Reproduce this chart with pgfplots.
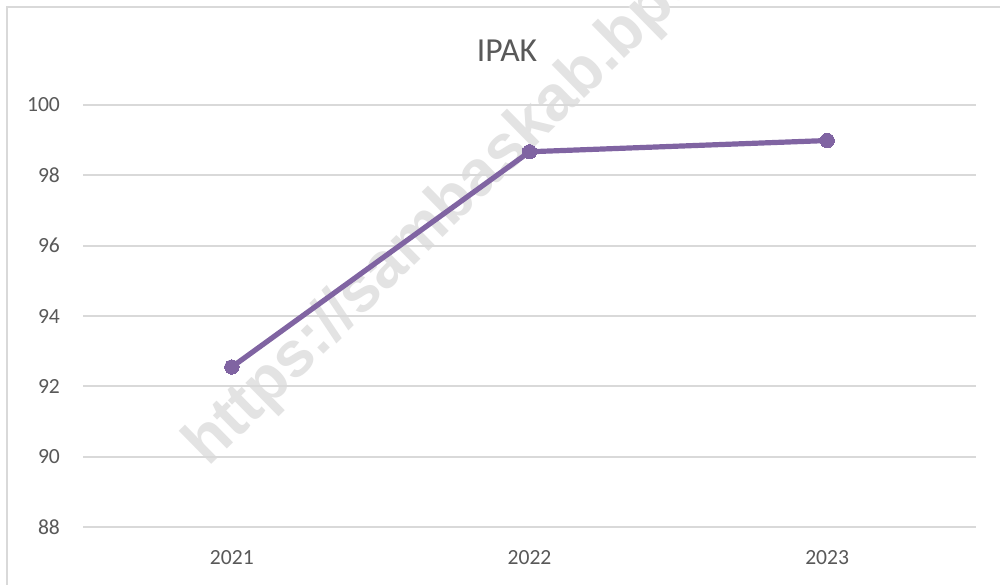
\documentclass[border=0pt]{standalone}
\usepackage{pgfplots}
\pgfplotsset{compat=1.18}
\usepackage{fontspec}
\setmainfont{Carlito}
\newfontfamily\wmfont{Liberation Sans}
\definecolor{linecol}{HTML}{8064A2}
\definecolor{gridcol}{HTML}{D9D9D9}
\definecolor{textcol}{HTML}{595959}
\definecolor{wmcol}{HTML}{E3E3E3}
\begin{document}
\begin{tikzpicture}
\useasboundingbox (0pt,0pt) rectangle (500pt,292pt);
\fill[white] (0pt,0pt) rectangle (500pt,292pt);
\draw[gridcol,line width=1pt] (3.5pt,-5pt) -- (3.5pt,288.5pt) -- (505pt,288.5pt);
\node[wmcol,font=\wmfont\bfseries\fontsize{32}{38}\selectfont,anchor=base west,rotate=44.5,inner sep=0pt] at (104pt,58pt) {https://sambaskab.bps.go.id};
\begin{axis}[
  at={(41.5pt,28.5pt)}, anchor=south west,
  scale only axis, width=446.5pt, height=211pt,
  xmin=0.5, xmax=3.5, ymin=88, ymax=100,
  xtick={1,2,3}, xticklabels={2021,2022,2023},
  ytick={88,90,...,100},
  ymajorgrids, major grid style={gridcol,line width=1pt},
  axis line style={draw=none},
  major tick length=0pt,
  tick label style={textcol,font=\fontsize{10.8}{13}\selectfont},
  /pgf/number format/assume math mode=true,
  xticklabel style={yshift=-8pt},
  yticklabel style={xshift=-8pt},
  clip=false,
]
\addplot[linecol,line width=2.6pt,mark=*,mark size=3.6pt,mark options={fill=linecol,draw=linecol,line width=0pt}] coordinates {(1,92.55) (2,98.67) (3,98.99)};
\end{axis}
\node[textcol,font=\fontsize{16.8}{20}\selectfont] at (253.5pt,266.5pt) {IPAK};
\end{tikzpicture}
\end{document}
